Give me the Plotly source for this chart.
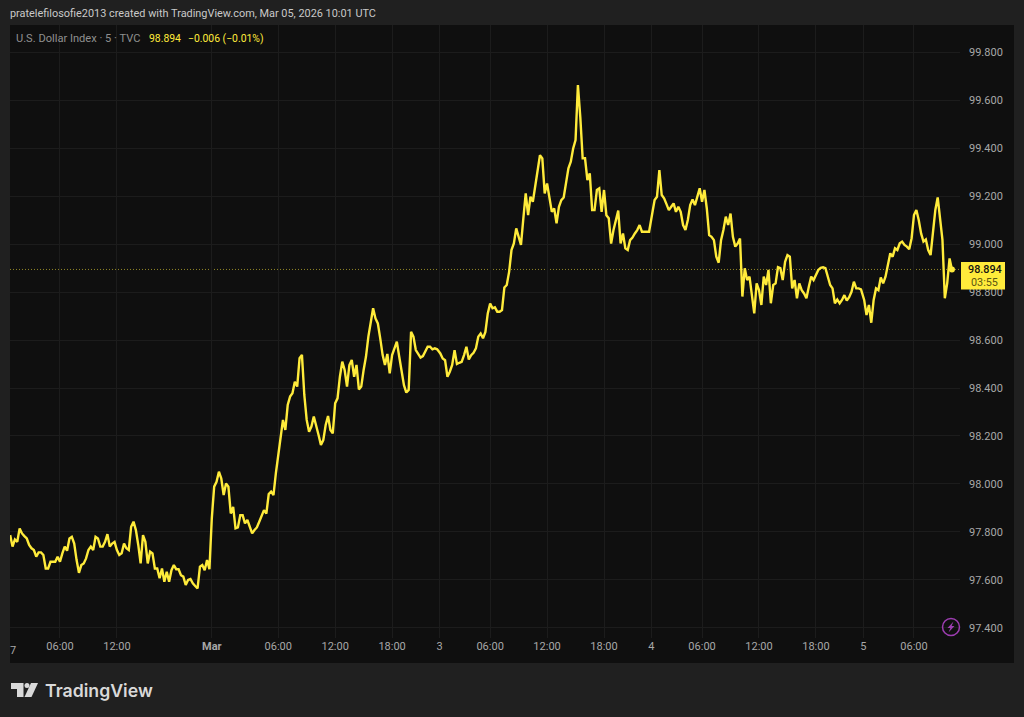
import pandas as pd
import plotly.graph_objects as go

sess_feb27 = [97.787,97.739,97.769,97.759,97.815,97.794,97.783,97.773,97.746,97.732,97.725,97.697,97.715,97.715,97.704,97.648,97.648,97.676,97.676,97.676,97.697,97.676,97.711,97.739,97.722,97.773,97.780,97.752,97.683,97.630,97.662,97.669,97.690,97.725,97.739,97.725,97.780,97.773,97.739,97.739,97.759,97.791,97.739,97.752,97.759,97.725,97.704,97.711,97.752,97.732,97.725,97.822,97.843,97.808,97.746,97.669,97.787,97.759,97.669,97.718,97.711,97.648,97.648,97.607,97.648,97.593,97.634,97.593,97.641,97.662,97.645,97.645,97.620,97.614,97.579,97.600,97.604,97.586,97.575,97.565,97.655,97.662,97.641,97.683,97.645]
sess_mar2 = [97.857,97.989,98.009,98.051,98.023,97.954,98.002,97.989,97.877,97.905,97.815,97.819,97.870,97.870,97.836,97.850,97.825,97.794,97.808,97.819,97.843,97.866,97.891,97.877,97.958,97.968,97.954,98.044,98.121,98.204,98.267,98.225,98.329,98.364,98.378,98.426,98.406,98.524,98.538,98.371,98.267,98.218,98.239,98.281,98.246,98.204,98.163,98.183,98.246,98.283,98.225,98.211,98.336,98.357,98.447,98.510,98.475,98.406,98.496,98.517,98.447,98.496,98.394,98.406,98.475,98.531,98.614,98.683,98.732,98.690,98.669,98.607,98.538,98.496,98.542,98.461,98.537,98.565,98.593,98.531,98.464,98.412,98.381,98.392,98.634,98.614,98.558,98.544,98.527,98.533,98.551,98.572,98.572,98.561,98.565,98.561]
sess_mar3 = [98.544,98.523,98.516,98.447,98.468,98.496,98.558,98.500,98.505,98.509,98.537,98.572,98.519,98.537,98.547,98.565,98.614,98.627,98.607,98.634,98.711,98.752,98.732,98.736,98.718,98.718,98.725,98.819,98.829,98.884,98.975,99.002,99.065,99.030,98.996,99.107,99.211,99.120,99.197,99.176,99.239,99.287,99.370,99.357,99.211,99.252,99.183,99.134,99.148,99.086,99.155,99.183,99.194,99.252,99.315,99.343,99.398,99.433,99.662,99.530,99.357,99.357,99.266,99.294,99.141,99.141,99.225,99.232,99.134,99.225,99.120,99.107,99.002,99.058,99.100,99.139,99.002,99.044,98.982,98.975,99.016,99.027,99.044,99.058,99.079,99.051,99.051,99.051,99.051]
sess_mar4 = [99.127,99.183,99.197,99.308,99.204,99.190,99.166,99.141,99.155,99.169,99.134,99.155,99.134,99.079,99.058,99.100,99.162,99.186,99.162,99.197,99.232,99.176,99.225,99.148,99.037,99.030,99.016,98.947,98.922,99.016,99.058,99.114,99.079,99.127,99.030,98.989,99.002,99.023,98.781,98.899,98.850,98.864,98.781,98.711,98.836,98.808,98.746,98.864,98.829,98.892,98.753,98.829,98.836,98.903,98.899,98.850,98.926,98.954,98.947,98.815,98.850,98.774,98.836,98.808,98.794,98.774,98.822,98.864,98.850,98.871,98.892,98.901,98.903,98.899,98.861,98.829,98.815,98.753,98.769,98.753,98.767,98.787,98.764,98.778,98.801,98.843,98.815,98.815,98.811]
sess_mar5 = [98.767,98.704,98.746,98.672,98.767,98.815,98.808,98.861,98.836,98.864,98.912,98.961,98.947,98.982,98.975,99.003,99.010,98.996,98.989,98.978,99.024,99.121,99.142,99.100,99.044,99.010,99.019,98.975,98.954,99.044,99.142,99.194,99.107,99.017,98.774,98.836,98.940,98.894]

session_starts = ["2026-02-27 00:45", "2026-03-01 23:00", "2026-03-03 00:45", "2026-03-04 00:45", "2026-03-05 00:45"]
session_values = [sess_feb27, sess_mar2, sess_mar3, sess_mar4, sess_mar5]

time_ticks = ["2026-02-27 06:00","2026-02-27 12:00","2026-03-01 23:00","2026-03-02 06:00","2026-03-02 12:00","2026-03-02 18:00",
              "2026-03-03 00:40","2026-03-03 06:00","2026-03-03 12:00","2026-03-03 18:00",
              "2026-03-04 00:40","2026-03-04 06:00","2026-03-04 12:00","2026-03-04 18:00",
              "2026-03-05 00:40","2026-03-05 06:00"]
time_labels = ["06:00","12:00","<b>Mar</b>","06:00","12:00","18:00","3","06:00","12:00","18:00","4","06:00","12:00","18:00","5","06:00"]
price_ticks = [97.4,97.6,97.8,98.0,98.2,98.4,98.6,98.8,99.0,99.2,99.4,99.6,99.8]
price_labels = ["97.400","97.600","97.800","98.000","98.200","98.400","98.600","98.800","99.000","99.200","99.400","99.600","99.800"]
last_price = 98.894

times, prices = [], []
for start, vals in zip(session_starts, session_values):
    times += list(pd.date_range(start, periods=len(vals), freq="15min"))
    prices += vals

W, H = 1024, 717
L, R, T, B = 10, 960, 25, 638
FONT = "Roboto, sans-serif"
YEL = "#FFEB3B"

def xp(x): return (x - L) / (R - L)
def yp(y): return (B - y) / (B - T)

def path(points):
    return "M " + " L ".join(f"{xp(x):.5f},{yp(y):.5f}" for x, y in points) + " Z"

def rect(x0, y0, x1, y1, color, layer="below"):
    return dict(type="rect", xref="paper", yref="paper", x0=xp(x0), x1=xp(x1), y0=yp(y0), y1=yp(y1),
                fillcolor=color, line_width=0, layer=layer)

def text(x, y, s, size, color, anchor="left", family=FONT, weight=None):
    f = dict(size=size, color=color, family=family)
    if weight: f["weight"] = weight
    return dict(xref="paper", yref="paper", x=xp(x - (2 if anchor == "left" else 0)), y=yp(y), text=s, showarrow=False,
                xanchor=anchor, yanchor="middle", font=f, align=anchor)

shapes = [
    rect(10, 25, 1014, 663, "#0F0F0F"),
    dict(type="line", xref="paper", yref="y", x0=0, x1=1, y0=last_price, y1=last_price,
         line=dict(color="rgba(255,235,59,0.55)", width=1, dash="1px,2px"), layer="below"),
    rect(961, 262, 1005, 289.5, YEL, layer="above"),
    dict(type="path", xref="paper", yref="paper", path=path([(11,683),(23.5,683),(23.5,697),(17,697),(17,689),(11,689)]),
         fillcolor="#D9D9D9", line_width=0),
    dict(type="circle", xref="paper", yref="paper", x0=xp(24.5), x1=xp(29.5), y0=yp(688), y1=yp(683),
         fillcolor="#D9D9D9", line_width=0),
    dict(type="path", xref="paper", yref="paper", path=path([(31,683),(38,683),(31.5,697),(24.5,697)]),
         fillcolor="#D9D9D9", line_width=0),
    dict(type="circle", xref="paper", yref="paper", x0=xp(942.5), x1=xp(959.5), y0=yp(635.5), y1=yp(618.5),
         line=dict(color="#9C3DB0", width=1.5), fillcolor="rgba(0,0,0,0)", layer="above"),
    dict(type="path", xref="paper", yref="paper", path=path([(953.5,621.5),(947.5,628),(950.4,628),(948.5,632.5),(954.5,626),(951.6,626)]),
         fillcolor="#9C3DB0", line_width=0, layer="above"),
]

annotations = [
    text(10, 13, "pratelefilosofie2013 created with TradingView.com, Mar 05, 2026 10:01 UTC", 10.9, "#C9C9C9"),
    text(16, 38, "U.S. Dollar Index · 5 · TVC", 11.1, "#8F8F8F"),
    text(149, 38, "98.894", 10.4, YEL),
    text(188, 38, "−0.006 (−0.01%)", 10.4, YEL),
    text(10, 650, "7", 11, "#A8A8A8"),
    text(984.5, 269, "98.894", 10.8, "#131313", anchor="center", weight=500),
    text(984.5, 282.7, "03:55", 10.8, "#5C5512", anchor="center"),
    text(45, 690, "TradingView", 17.7, "#D9D9D9", family="Inter, sans-serif", weight=600),
]

fig = go.Figure()
fig.add_trace(go.Scatter(x=times, y=prices, mode="lines", line=dict(color=YEL, width=2.4), hoverinfo="skip"))
fig.add_trace(go.Scatter(x=[times[-1]], y=[last_price], mode="markers", marker=dict(color=YEL, size=6), hoverinfo="skip"))

fig.update_layout(
    width=W, height=H, autosize=False, showlegend=False,
    margin=dict(l=L, r=W - R, t=T, b=H - B, pad=0),
    paper_bgcolor="#202020", plot_bgcolor="rgba(0,0,0,0)",
    font=dict(family=FONT, size=11, color="#A8A8A8"),
    shapes=shapes, annotations=annotations,
    xaxis=dict(
        type="date", range=["2026-02-27 00:44", "2026-03-05 10:51"],
        rangebreaks=[
            dict(bounds=["2026-02-27 22:00", "2026-03-01 23:00"]),
            dict(bounds=["2026-03-02 23:00", "2026-03-03 00:40"]),
            dict(bounds=["2026-03-03 23:00", "2026-03-04 00:40"]),
            dict(bounds=["2026-03-04 23:00", "2026-03-05 00:40"]),
        ],
        tickmode="array", tickvals=time_ticks, ticktext=time_labels, tickangle=0,
        showgrid=True, gridcolor="#1C1C1C", gridwidth=1, zeroline=False, showline=False, ticks="",
        tickfont=dict(family=FONT, size=11, color="#A8A8A8"),
    ),
    yaxis=dict(
        side="right", range=[97.3583, 99.9125], tickmode="array", tickvals=price_ticks, ticktext=price_labels,
        showgrid=True, gridcolor="#1C1C1C", gridwidth=1, zeroline=False, showline=False, ticks="",
        ticklabelstandoff=8,
        tickfont=dict(family=FONT, size=11, color="#A8A8A8"),
    ),
)

fig.write_html("out.html", config=dict(displayModeBar=False),
               post_script="document.body.style.margin='0';document.body.style.overflow='hidden';")
